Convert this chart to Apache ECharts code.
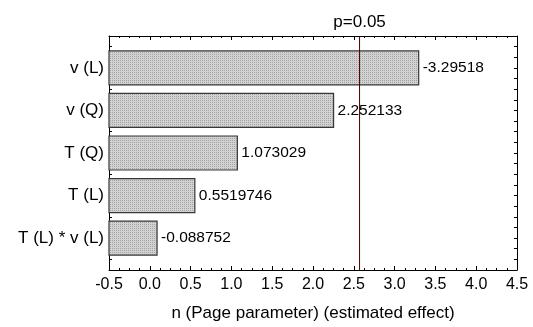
<!DOCTYPE html>
<html>
<head>
<meta charset="utf-8">
<script src="https://cdn.jsdelivr.net/npm/echarts@6/dist/echarts.min.js"></script>
<style>
  html, body { margin: 0; padding: 0; background: #fff; }
  #chart { width: 533px; height: 327px; }
</style>
</head>
<body>
<div id="chart"></div>
<script>
// Standardized effects (Pareto chart), largest on top
const factors = ['v (L)', 'v (Q)', 'T (Q)', 'T (L)', 'T (L) * v (L)'];
const effects = [-3.29518, 2.252133, 1.073029, 0.5519746, -0.088752];
const tCritical = 2.5706;           // p = 0.05 significance limit
const critLabel = 'p=0.05';
const xTicks = [-0.5, 0.0, 0.5, 1.0, 1.5, 2.0, 2.5, 3.0, 3.5, 4.0, 4.5];
const xName = 'n (Page parameter) (estimated effect)';

const FONT = '"Liberation Sans", Arial, sans-serif';
const X_MIN = xTicks[0], X_MAX = xTicks[xTicks.length - 1];
const Y_MIN = -0.75, Y_MAX = factors.length - 0.25;

// quarter-row tick positions along the vertical axes
const yTickPos = [];
for (let v = Y_MIN; v <= Y_MAX + 1e-9; v += 0.25) yTickPos.push(+v.toFixed(2));

// fine dotted grey fill for the bars
const pat = document.createElement('canvas');
pat.width = 2; pat.height = 2;
const pc = pat.getContext('2d');
pc.fillStyle = '#d2d2d2'; pc.fillRect(0, 0, 2, 2);
pc.fillStyle = '#a4a4a4'; pc.fillRect(0, 0, 1, 1);

const barData = effects.map((e, i) => [Math.abs(e), i, e]);

const chart = echarts.init(document.getElementById('chart'), null, { renderer: 'canvas' });

const xAxisBase = {
  type: 'value', min: X_MIN, max: X_MAX, interval: 0.5,
  axisLine: { show: true, onZero: false, lineStyle: { color: '#000', width: 1 } },
  axisTick: { show: true, inside: true, length: 4, lineStyle: { color: '#000' } },
  minorTick: { show: true, splitNumber: 4, length: 2, lineStyle: { color: '#000' } },
  splitLine: { show: false }
};
const yAxisBase = {
  type: 'value', min: Y_MIN, max: Y_MAX, inverse: true,
  axisLine: { show: true, onZero: false, lineStyle: { color: '#000', width: 1 } },
  axisTick: { show: true, inside: true, length: 3, customValues: yTickPos, lineStyle: { color: '#000' } },
  splitLine: { show: false }
};

chart.setOption({
  animation: false,
  backgroundColor: '#fff',
  grid: { left: 109, top: 36, width: 408, height: 239, containLabel: false },
  xAxis: [
    Object.assign({}, xAxisBase, {
      position: 'bottom',
      name: xName, nameLocation: 'middle', nameGap: 35,
      nameTextStyle: { fontFamily: FONT, fontSize: 17, color: '#000' },
      axisLabel: {
        fontFamily: FONT, fontSize: 16, color: '#000', margin: 7,
        showMinLabel: true, showMaxLabel: true,
        formatter: v => v.toFixed(1)
      }
    }),
    Object.assign({}, xAxisBase, { position: 'top', axisLabel: { show: false } })
  ],
  yAxis: [
    Object.assign({}, yAxisBase, {
      position: 'left',
      axisLabel: {
        fontFamily: FONT, fontSize: 17, color: '#000', margin: 5,
        customValues: factors.map((_, i) => i),
        formatter: v => factors[Math.round(v)]
      }
    }),
    Object.assign({}, yAxisBase, { position: 'right', axisLabel: { show: false } })
  ],
  series: [
    {
      type: 'custom',
      xAxisIndex: 0, yAxisIndex: 0,
      data: barData,
      encode: { x: 0, y: 1 },
      renderItem: function (params, api) {
        const len = api.value(0), idx = api.value(1), eff = api.value(2);
        const p0 = api.coord([X_MIN, idx - 0.4]);
        const p1 = api.coord([len, idx + 0.4]);
        const mid = api.coord([len, idx]);
        return {
          type: 'group',
          children: [
            {
              type: 'rect',
              shape: { x: p0[0], y: p0[1], width: p1[0] - p0[0], height: p1[1] - p0[1] },
              style: { fill: { image: pat, repeat: 'repeat' }, stroke: '#383838', lineWidth: 1.2 }
            },
            {
              type: 'text',
              x: mid[0] + 4, y: mid[1],
              style: {
                text: String(eff), fill: '#000',
                font: '15.5px ' + FONT,
                align: 'left', verticalAlign: 'middle'
              }
            }
          ]
        };
      },
      z: 2
    },
    {
      type: 'line',
      xAxisIndex: 0, yAxisIndex: 0,
      symbol: 'circle', symbolSize: 0, showSymbol: true,
      lineStyle: { color: '#4a0000', width: 1 },
      itemStyle: { color: '#4a0000' },
      data: [
        { value: [tCritical, Y_MAX] },
        { value: [tCritical, Y_MIN],
          label: { show: true, position: 'top', distance: 5, formatter: critLabel,
                   fontFamily: FONT, fontSize: 17, color: '#000' } }
      ],
      z: 3
    }
  ]
});
</script>
</body>
</html>
